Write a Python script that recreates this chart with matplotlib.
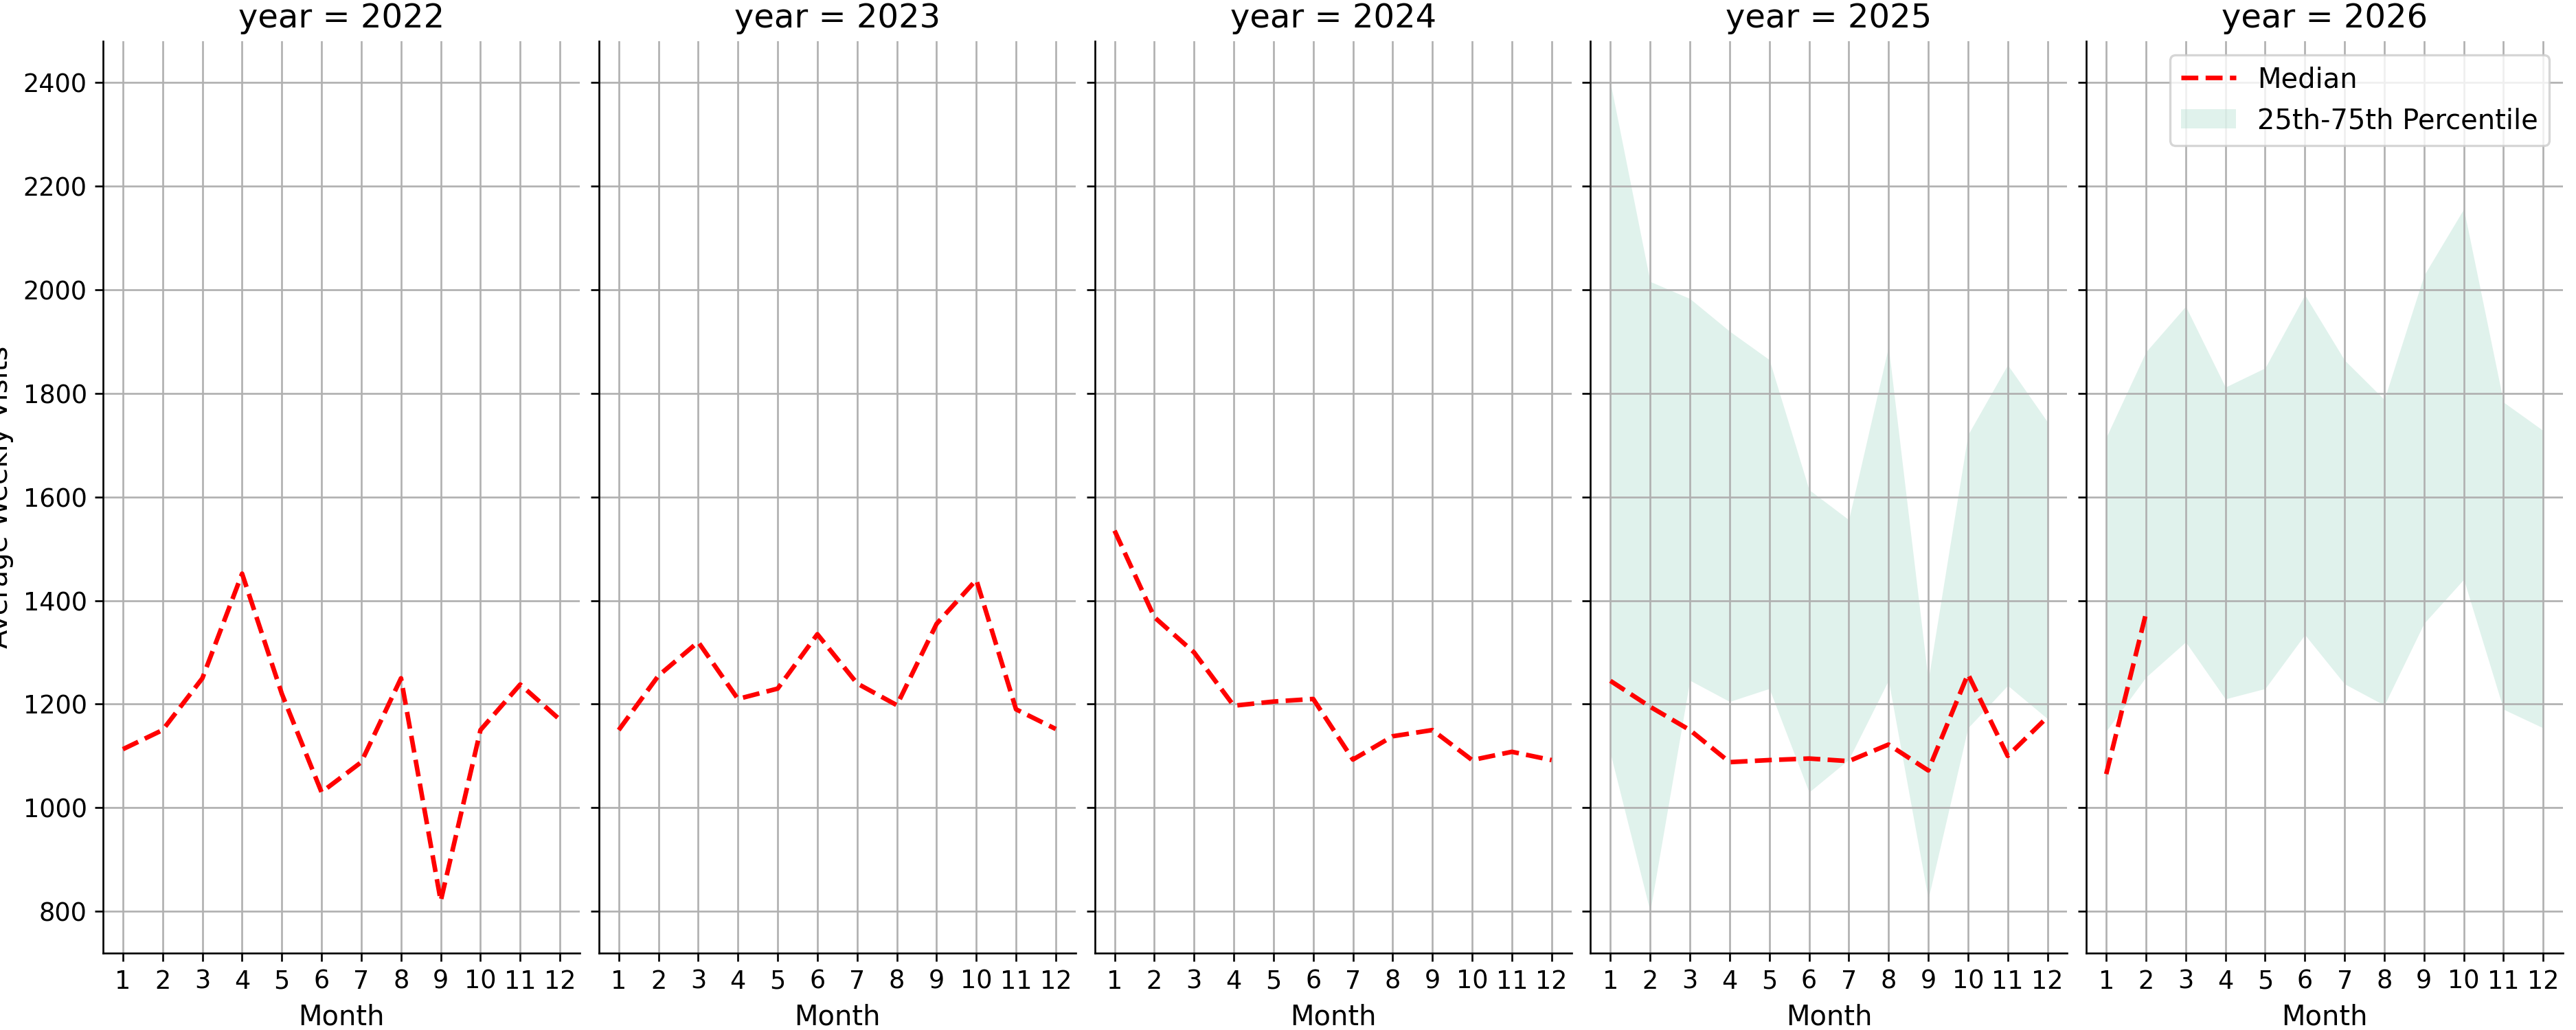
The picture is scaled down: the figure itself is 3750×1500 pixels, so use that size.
import matplotlib
matplotlib.use("Agg")
import matplotlib.pyplot as plt
import numpy as np

months = list(range(1, 13))
years = [2022, 2023, 2024, 2025, 2026]
median = {
    2022: [1113, 1150, 1250, 1452, 1220, 1030, 1088, 1250, 820, 1150, 1238, 1170],
    2023: [1150, 1255, 1320, 1210, 1230, 1335, 1240, 1198, 1355, 1440, 1190, 1152],
    2024: [1535, 1368, 1300, 1197, 1205, 1210, 1093, 1138, 1150, 1092, 1108, 1092],
    2025: [1245, 1195, 1150, 1088, 1092, 1095, 1090, 1122, 1072, 1258, 1100, 1175],
    2026: [1065, 1375],
}
band_a = {
    2025: [2400, 2016, 1983, 1920, 1865, 1614, 1556, 1890, 1246, 1720, 1855, 1745],
    2026: [1715, 1880, 1968, 1812, 1849, 1990, 1864, 1788, 2028, 2156, 1783, 1728],
}
band_b = {
    2025: [1105, 800, 1246, 1205, 1230, 1030, 1093, 1246, 824, 1154, 1236, 1172],
    2026: [1148, 1252, 1320, 1210, 1230, 1334, 1239, 1198, 1356, 1441, 1190, 1154],
}

plt.rcParams['font.size'] = 12
fig, axes = plt.subplots(1, 5, figsize=(15.625, 6.25), dpi=240, sharey=True)
for ax, yr in zip(axes, years):
    if yr in band_a:
        ax.fill_between(months, band_a[yr], band_b[yr], color='#b2dfd0', alpha=0.4,
                        linewidth=0, label='25th-75th Percentile')
    m = median[yr]
    ax.plot(months[:len(m)], m, color='red', linestyle='--', linewidth=2, label='Median')
    ax.set_title(f"year = {yr}")
    ax.set_xticks(months)
    ax.set_xlim(0.5, 12.5)
    ax.tick_params(labelsize=11)
    ax.grid(True, color='#b0b0b0', linewidth=0.8)
    ax.spines['top'].set_visible(False)
    ax.spines['right'].set_visible(False)
    ax.set_xlabel("Month")
axes[0].set_ylim(720, 2480)
axes[0].set_yticks(range(800, 2401, 200))
axes[0].set_ylabel("Average Weekly Visits")
h, l = axes[-1].get_legend_handles_labels()
axes[-1].legend([h[1], h[0]], [l[1], l[0]], loc='upper right')
fig.subplots_adjust(left=0.04, right=0.995, top=0.96, bottom=0.075, wspace=0.04)
fig.savefig("out.png")
